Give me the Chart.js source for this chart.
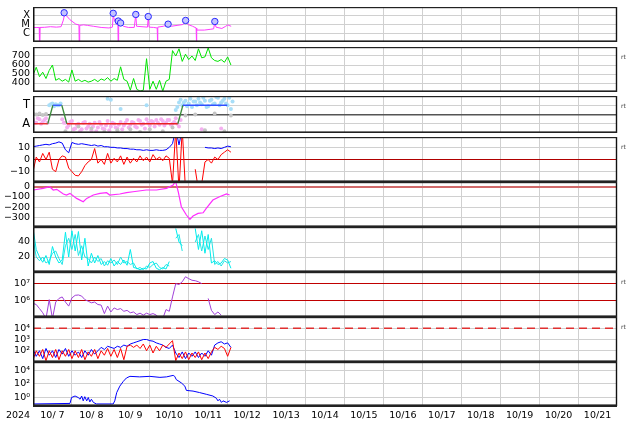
<!DOCTYPE html>
<html>
<head>
<meta charset="utf-8">
<script src="https://cdn.jsdelivr.net/npm/chart.js@4"></script>
<style>
  body { margin: 0; background: #fff; width: 634px; height: 424px; overflow: hidden; position: relative; }
  canvas { position: absolute; left: 0; }
</style>
</head>
<body>
<script>
// time axis: days since 2024-10-07 00:00
const YEAR = "2024";
const dayLabels = ["10/ 7", "10/ 8", "10/ 9", "10/10", "10/11", "10/12", "10/13", "10/14",
                   "10/15", "10/16", "10/17", "10/18", "10/19", "10/20", "10/21"];
const STEP = 1 / 12;   // 2-hour samples

// X-ray flux (W/m2)
const xrayTime = [0.00, 0.10, 0.16, 0.17, 0.18, 0.30, 0.45, 0.60, 0.72, 0.78, 0.81, 0.86, 0.95, 1.10, 1.18,
                  1.19, 1.20, 1.30, 1.40, 1.55, 1.75, 1.95, 2.04, 2.06, 2.10, 2.15, 2.18, 2.19, 2.20, 2.25,
                  2.32, 2.45, 2.60, 2.64, 2.66, 2.80, 2.94, 2.96, 2.98, 3.10, 3.19, 3.20, 3.21, 3.35, 3.47,
                  3.55, 3.70, 3.85, 3.92, 3.98, 4.10, 4.19, 4.20, 4.21, 4.40, 4.55, 4.64, 4.67, 4.70, 4.85,
                  4.95, 5.00, 5.09];
const xrayFlux = [4.6e-6, 4.5e-6, 4.6e-6, 1e-8, 4.6e-6, 4.8e-6, 5.6e-6, 5.0e-6, 5.6e-6, 3.2e-5, 1.4e-4, 1.0e-4, 3.5e-5, 1.1e-5, 8.9e-6,
                  1e-8, 7.9e-6, 9.1e-6, 7.9e-6, 6.3e-6, 4.6e-6, 4.0e-6, 5.0e-6, 1.1e-4, 2.5e-5, 1.0e-5, 2.0e-5, 1e-8, 1.8e-5, 1.3e-5,
                  6.3e-6, 4.6e-6, 4.6e-6, 1.3e-4, 6.3e-6, 5.6e-6, 5.0e-6, 7.1e-5, 5.0e-6, 4.6e-6, 4.0e-6, 1e-8, 5.0e-6, 6.3e-6, 1.0e-5,
                  6.3e-6, 7.9e-6, 1.0e-5, 2.5e-5, 1.0e-5, 6.3e-6, 4.0e-6, 1e-8, 2.3e-6, 2.3e-6, 2.8e-6, 3.2e-6, 2.0e-5, 5.0e-6, 3.5e-6,
                  6.3e-6, 8.9e-6, 6.3e-6];
const flareTime = [0.80, 2.06, 2.19, 2.25, 2.64, 2.96, 3.47, 3.92, 4.67];
const flarePeak = [2.2e-4, 1.9e-4, 2.5e-5, 1.5e-5, 1.4e-4, 8.1e-5, 1.1e-5, 2.9e-5, 2.2e-5];

// solar wind speed (km/s), every 2 h
const windSpeed = [489, 575, 470, 520, 450, 540, 600, 430, 450, 420,
                   440, 410, 545, 420, 440, 415, 430, 410, 420, 440,
                   415, 445, 430, 460, 420, 450, 430, 580, 440, 420,
                   320, 450, 330, 310, 320, 670, 330, 420, 330, 430,
                   310, 420, 440, 760, 700, 780, 640, 720, 660, 700,
                   650, 780, 680, 690, 790, 680, 650, 640, 660, 630,
                   690, 600];

// IMF sector (T = 1, A = -1) and field angle dots
const sectorTime = [0, 0.38, 0.51, 0.74, 0.87, 3.72, 3.85, 4.99];
const sectorVal = [-1, -1, 1, 1, -1, -1, 1, 1];
const awayDots1 = [-0.6, -0.9, -0.5, -0.8, -0.4, null, null, null, null, -0.5,
                   -0.9, -1.2, -0.7, -1.5, -1.0, -1.6, -0.8, -1.3, -1.7, -0.9,
                   -1.4, -1.1, -1.6, -0.7, -1.3, -1.0, -1.5, -0.8, -1.2, -0.6,
                   -1.1, -0.9, -1.4, -0.7, -1.0, -0.5, -1.2, -0.8, -0.6, -1.1,
                   -0.7, -0.9, -0.6, -1.0, -0.4, -1.3, null, null, null, null,
                   null, null, -1.6, null, null, null, null, null, -1.5, null,
                   null, null];
const awayDots2 = [-0.9, -0.4, -1.0, -0.6, -0.9, null, null, null, null, -0.9,
                   -1.4, -0.8, -1.6, -1.1, -1.8, -0.9, -1.5, -1.0, -1.3, -1.8,
                   -0.8, -1.5, -1.2, -1.7, -0.9, -1.4, -1.1, -1.6, -0.9, -1.4,
                   -0.8, -1.3, -0.6, -1.1, -1.5, -0.9, -0.7, -1.3, -0.9, -0.5,
                   -1.2, -0.6, -1.1, -0.8, -1.0, -0.6, null, null, null, null,
                   null, null, null, null, null, null, null, null, null, null,
                   null, null];
const towardDots1 = [null, null, null, null, null, 1.0, 1.2, 1.1, 1.0, null,
                     null, null, null, null, null, null, null, null, null, null,
                     null, null, null, 1.7, 1.6, null, null, 0.6, null, null,
                     null, null, null, null, null, 1.0, null, null, null, null,
                     null, null, null, null, 0.5, 1.3, 1.0, 1.5, 1.2, 0.8,
                     1.4, 1.7, 1.1, 1.5, 0.9, 1.6, 1.2, 1.8, 1.3, 1.7,
                     1.0, 0.6];
const towardDots2 = [null, null, null, null, null, 1.1, 0.9, 1.0, 1.2, null,
                     null, null, null, null, null, null, null, null, null, null,
                     null, null, null, null, null, null, null, null, null, null,
                     null, null, null, null, null, null, null, null, null, null,
                     null, null, null, null, 0.8, 1.6, 1.3, 0.9, 1.7, 1.4,
                     1.0, 1.3, 1.8, 0.8, 1.5, 1.1, 1.9, 1.0, 1.5, 1.2,
                     1.8, 1.4];
const otherDots = [0.1, 0.0, 0.1, -0.05, 0.05, null, null, null, null, null,
                   -1.8, null, null, null, -1.3, null, null, null, -1.5, null,
                   null, null, -1.9, null, null, null, -1.7, null, null, null,
                   -1.6, null, null, -1.9, null, null, -1.6, null, null, null,
                   -1.8, null, null, -1.4, null, null, null, -0.1, null, null,
                   0.0, null, null, -1.7, null, null, 0.1, null, null, -1.8,
                   null, -0.1];

// IMF Bt / Bz (nT), every 2 h
const bt = [10.5, 11, 11.5, 12, 12.5, 12, 13, 13.5, 14.5, 13.5,
            8, 5.5, 14, 13, 12.5, 13, 12.5, 12, 11.5, 12,
            11, 11.5, 10.5, 10.5, 10, 10, 9.5, 9.5, 9, 9,
            8.5, 8.5, 8, 8, 7.5, 8, 7.5, 7.5, 8, 7.5,
            7.5, 8, 10, 13, 25, 12, 25, null, null, null,
            null, null, null, 10, 9.5, 9.5, 9, 9.5, 9, 10,
            11, 10.5];
const bz = [-10, 2, -2, 5, 0, 6, -8, -10, 0, 3,
            2, -7, -10, -13, -13.5, -10, -5, -2, 0, 9,
            -3, 0, -4, 5, -3, 1, -2, 3, -4, 2,
            -3, 1, -2, 3, -1, 2, -2, 4, 0, 2,
            -1, 3, 1, -20, 25, -25, 25, -25, null, null,
            -8, -25, -20, -2, 0, -3, 2, 0, 4, 6,
            8, 6];

// Dst (nT)
const dstTime = [0.01, 0.26, 0.43, 0.52, 0.61, 0.78, 0.86, 0.95, 1.12, 1.29, 1.38, 1.55, 1.72, 1.89, 1.97,
                 2.23, 2.40, 2.57, 2.91, 3.17, 3.43, 3.60, 3.66, 3.73, 3.81, 3.94, 4.03, 4.11, 4.24, 4.37,
                 4.45, 4.62, 4.79, 4.97, 5.05];
const dst = [-32, -16, 0, -32, -26, -71, -81, -65, -114, -146, -114, -81, -65, -58, -81,
             -71, -58, -49, -32, -32, -16, 16, 56, -49, -195, -276, -318, -286, -260, -254,
             -211, -130, -98, -71, -81];

// proton density (/cc), every 2 h, two instruments
const density1 = [58, 30, 20, 13, 22, 10, 34, 20, 12, 16,
                  53, 20, 55, 28, 54, 16, 45, 8, 25, 12,
                  22, 10, 14, 9, 18, 8, 14, 10, 16, 9,
                  30, 6, 5, 3, 5, 4, 12, 14, 5, 3,
                  6, 4, 14, null, 58, 40, 35, null, null, null,
                  58, 30, 55, 25, 50, 12, 15, 10, 12, 18,
                  16, 5];
const density2 = [45, 20, 15, 20, 12, 15, 25, 28, 18, 10,
                  35, 45, 30, 50, 22, 35, 20, 18, 12, 20,
                  14, 18, 8, 15, 12, 16, 10, 20, 12, 14,
                  10, 12, 4, 6, 3, 8, 6, 10, 12, 6,
                  4, 10, 8, null, 45, 50, 28, null, null, null,
                  40, 50, 28, 48, 30, 45, 10, 14, 8, 15,
                  12, 14];

// >2 MeV electron flux, every 2 h
const electron = [6.6e5, 5.6e5, 3.2e5, 1.8e5, 8e4, 1.1e6, 8e4, 7.9e5, 1.3e6, 1.6e6,
                  7.9e5, 4.5e5, 1.4e6, 2.0e6, 2.1e6, 1.8e6, 1.1e6, 8.9e5, 7.1e5, 7.9e5,
                  5.6e5, 5.2e5, 1.6e5, 4.5e5, 2.0e5, 3.5e5, 2.8e5, 3.2e5, 2.2e5, 2.5e5,
                  1.8e5, 2.0e5, 1.4e5, 1.7e5, 1.3e5, 1.7e5, 1.4e5, 1.6e5, 1.3e5, 8e4,
                  8e4, 2.8e5, 2.2e5, 1.6e6, 1.0e7, 8.9e6, 1.3e7, 2.6e7, 2.0e7, 1.6e7,
                  1.5e7, 1.3e7, 1.0e7, null, 1.3e6, 2.5e5, 1.4e5, 2.0e5, 1.3e5, null,
                  null, null];
const electronLevels = [1e6, 1e7];

// ion flux, every 2 h
const ionBlue = [130, 32, 100, 20, 160, 40, 100, 25, 130, 50,
                 160, 32, 100, 40, 79, 25, 100, 40, 130, 50,
                 100, 200, 130, 250, 200, 160, 250, 200, 320, 250,
                 400, 500, 630, 790, 1000, 1000, 790, 710, 500, 400,
                 320, 200, 160, 320, 63, 25, 79, 20, 63, 32,
                 79, 25, 63, 32, 100, 40, 320, 500, 630, 400,
                 500, 200];
const ionRed = [16, 100, 32, 130, 13, 100, 25, 130, 16, 100,
                32, 130, 20, 100, 25, 130, 16, 79, 32, 130,
                20, 100, 40, 160, 32, 130, 25, 160, 16, 250,
                320, 200, 320, 160, 400, 100, 320, 63, 250, 100,
                320, 200, 400, 790, 13, 63, 20, 79, 16, 63,
                25, 79, 16, 63, 20, 79, 200, 130, 250, 160,
                32, 200];
const ionAlert = 1e4;

// >10 MeV proton flux
const protonTime = [0.01, 0.95, 0.99, 1.08, 1.16, 1.21, 1.25, 1.29, 1.33, 1.38, 1.42, 1.46, 1.50, 1.55, 1.63,
                    2.06, 2.10, 2.15, 2.23, 2.32, 2.40, 2.49, 2.74, 3.00, 3.26, 3.43, 3.60, 3.64, 3.68, 3.81,
                    3.90, 3.94, 4.11, 4.28, 4.45, 4.62, 4.71, 4.75, 4.79, 4.84, 4.88, 4.97, 5.05];
const proton = [0.1, 0.12, 0.9, 1.5, 0.9, 0.5, 1.5, 0.29, 1.2, 0.29, 0.9, 0.2, 0.5, 0.17, 0.1,
                0.1, 0.29, 4.8, 43, 220, 690, 1200, 1000, 1200, 850, 1000, 1660, 1200, 400, 130,
                43, 10, 8, 4.8, 2.7, 1.5, 0.7, 0.29, 0.5, 0.17, 0.29, 0.17, 0.29];

Chart.defaults.font.family = "'DejaVu Sans', sans-serif";
Chart.defaults.color = "#000";

function sampled(values, offset) {
  return values.map((v, i) => ({ x: i * STEP + (offset || 0), y: v }));
}
function paired(times, values) {
  return times.map((t, i) => ({ x: t, y: values[i] }));
}
function level(v) {
  return [{ x: 0, y: v }, { x: dayLabels.length, y: v }];
}

const dayTicks = [];
for (let d = 0; d <= dayLabels.length; d += 0.5) dayTicks.push(d);

function xAxis(last) {
  return {
    type: "linear", min: 0, max: dayLabels.length,
    afterBuildTicks: s => { s.ticks = dayTicks.map(v => ({ value: v })); },
    afterFit: s => { s.height = last ? 18 : 0; s.paddingLeft = 0; s.paddingRight = 0; },
    grid: {
      drawTicks: false,
      color: c => (c.tick && c.tick.value % 1 === 0) ? "#d0d0d0" : "rgba(0,0,0,0)"
    },
    border: { display: false },
    ticks: {
      display: last, autoSkip: false, maxRotation: 0, padding: 4,
      font: { size: 9.5 },
      callback: v => v % 1 === 0.5 ? dayLabels[Math.floor(v)] : ""
    }
  };
}

function yAxis(type, min, max, ticks, labels, gridColor, gridWidth, fontSize) {
  return {
    type, min, max,
    afterBuildTicks: s => { s.ticks = ticks.map(v => ({ value: v })); },
    afterFit: s => { s.width = 33; s.paddingTop = 0; s.paddingBottom = 0; },
    grid: {
      drawTicks: false,
      color: gridColor ? c => gridColor[c.index] : "#d0d0d0",
      lineWidth: gridWidth ? c => gridWidth[c.index] : 1
    },
    border: { display: false },
    ticks: { autoSkip: false, padding: 3, font: { size: fontSize || 9.5 }, callback: (v, i) => labels[i] }
  };
}

const framePlugin = {
  id: "frame",
  afterDraw(chart, args, o) {
    const { ctx, chartArea: a } = chart;
    ctx.save();
    ctx.fillStyle = "#111";
    ctx.fillRect(a.left, a.top, 1.5, a.height);
    ctx.fillRect(a.right - 1.2, a.top, 1.2, a.height);
    ctx.fillStyle = "#222";
    ctx.fillRect(a.left, a.top, a.width, 1.2);
    ctx.fillRect(a.left, a.bottom - 1.6, a.width, 1.6);
    if (o.last) ctx.fillRect(a.left, a.bottom, a.width, 1);
    if (o.rt) {
      ctx.fillStyle = "#444";
      ctx.font = "6px 'DejaVu Sans'";
      ctx.textBaseline = "middle";
      ctx.fillText("rt", a.right + 4, a.top + 10);
    }
    if (o.last) {
      ctx.fillStyle = "#000";
      ctx.font = "9.5px 'DejaVu Sans'";
      ctx.textAlign = "center";
      ctx.textBaseline = "top";
      ctx.fillText(YEAR, 18, a.bottom + 5);
    }
    ctx.restore();
  }
};

function panel(idx, yScale, datasets, rt) {
  const last = idx === 8;
  const canvas = document.createElement("canvas");
  canvas.width = 634;
  canvas.height = last ? 62 : 45;
  canvas.style.top = (2 + 45 * idx) + "px";
  document.body.appendChild(canvas);
  return new Chart(canvas, {
    type: "line",
    data: { datasets },
    options: {
      responsive: false,
      animation: false,
      events: [],
      layout: { padding: { left: 0, right: 17, top: 0, bottom: 0 } },
      elements: { point: { radius: 0 }, line: { borderWidth: 1, tension: 0 } },
      plugins: { legend: { display: false }, tooltip: { enabled: false }, frame: { rt, last } },
      scales: { x: xAxis(last), y: yScale }
    },
    plugins: [framePlugin]
  });
}

const dot = (data, color) => ({ data, showLine: false, pointRadius: 2, pointBorderWidth: 0,
                                pointBackgroundColor: color, order: 3 });

// 1: X-ray
panel(0, yAxis("logarithmic", 1e-7, 1e-3, [1e-6, 1e-5, 1e-4], ["C", "M", "X"], null, null, 10), [
  { data: paired(flareTime, flarePeak), showLine: false, pointRadius: 3.2, pointBorderWidth: 1,
    pointBackgroundColor: "#c4c4ff", pointBorderColor: "#2828ff", order: 0 },
  { data: paired(xrayTime, xrayFlux), borderColor: "#ff3cff", order: 1 }
], false);

// 2: wind speed
panel(1, yAxis("linear", 300, 800, [400, 500, 600, 700], ["400", "500", "600", "700"]), [
  { data: sampled(windSpeed), borderColor: "#00e400" }
], true);

// 3: sector
panel(2, yAxis("linear", -2, 2, [-1, 0, 1], ["A", "", "T"],
               ["#d0d0d0", "#555555", "#d0d0d0"], [1, 1.5, 1], 11.5), [
  { data: paired(sectorTime, sectorVal), borderWidth: 1.3, order: 0,
    segment: { borderColor: c => c.p0.parsed.y === c.p1.parsed.y ? (c.p0.parsed.y > 0 ? "#3050ff" : "#e82020") : "#3a8a3a" } },
  dot(sampled(otherDots), "#c4c4c4"),
  dot(sampled(awayDots1), "#f4b0f0"),
  dot(sampled(awayDots2, STEP / 2), "#f4b0f0"),
  dot(sampled(towardDots1), "#a8def8"),
  dot(sampled(towardDots2, STEP / 2), "#a8def8")
], true);

// 4: Bt / Bz
panel(3, yAxis("linear", -18.5, 18.5, [-10, 0, 10], ["\u221210", "0", "10"],
               ["#d0d0d0", "#b00000", "#d0d0d0"]), [
  { data: sampled(bz), borderColor: "#ff0000", order: 0 },
  { data: sampled(bt), borderColor: "#0000ff", order: 1 }
], true);

// 5: Dst
panel(4, yAxis("linear", -393, 46, [-300, -200, -100, 0], ["\u2212300", "\u2212200", "\u2212100", "0"],
               ["#d0d0d0", "#d0d0d0", "#d0d0d0", "#d06a6a"], [1, 1, 1, 2]), [
  { data: paired(dstTime, dst), borderColor: "#ff2cff", borderWidth: 1.2 }
], false);

// 6: density
panel(5, yAxis("linear", 0, 60, [20, 40], ["20", "40"]), [
  { data: sampled(density1), borderColor: "#00ecec" },
  { data: sampled(density2), borderColor: "#22e4e4" }
], false);

// 7: electrons
panel(6, yAxis("logarithmic", 1e5, 5.01e7, electronLevels, ["10\u2076", "10\u2077"],
               ["#c00000", "#c00000"]), [
  { data: sampled(electron), borderColor: "#a040d8" }
], true);

// 8: ions
panel(7, yAxis("logarithmic", 1e1, 1e5, [1e2, 1e3, 1e4], ["10\u00b2", "10\u00b3", "10\u2074"]), [
  { data: sampled(ionRed), borderColor: "#ff0000", order: 0 },
  { data: sampled(ionBlue), borderColor: "#0000ff", order: 1 },
  { data: level(ionAlert), borderColor: "#e03030", borderWidth: 1.5, borderDash: [8, 5], order: 5 }
], true);

// 9: protons
panel(8, yAxis("logarithmic", 0.05, 1.585e5, [1e0, 1e2, 1e4], ["10\u2070", "10\u00b2", "10\u2074"]), [
  { data: paired(protonTime, proton), borderColor: "#0000ff" }
], false);
</script>
</body>
</html>
